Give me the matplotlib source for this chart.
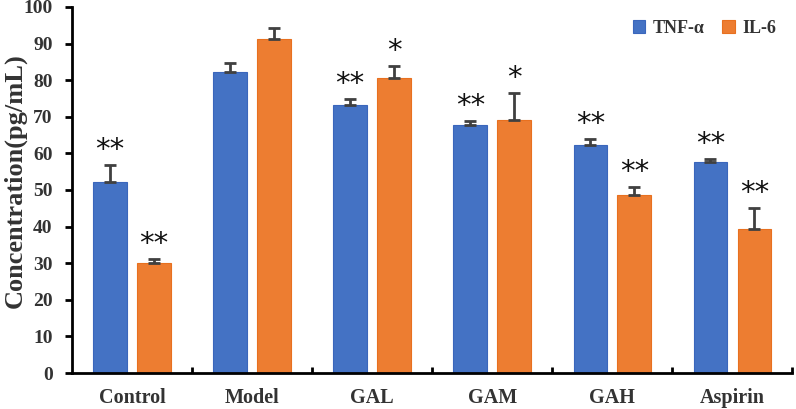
import numpy as np
import matplotlib.pyplot as plt

categories = ['Control', 'Model', 'GAL', 'GAM', 'GAH', 'Aspirin']
tnf = [52.2, 82.3, 73.2, 67.7, 62.3, 57.6]
tnf_err = [4.6, 2.5, 1.6, 1.1, 1.5, 0.9]
il6 = [30.0, 91.3, 80.6, 69.2, 48.7, 39.3]
il6_err = [1.1, 3.0, 3.3, 7.4, 2.2, 5.8]
tnf_sig = ['**', '', '**', '**', '**', '**']
il6_sig = ['**', '', '*', '*', '**', '**']

serif = 'Liberation Serif'

fig = plt.figure(figsize=(7.96, 4.09), dpi=100)
ax = fig.add_axes([0.0905, 0.088, 0.905, 0.895])

x = np.arange(len(categories))
w = 0.28
off = 0.183
ax.bar(x - off, tnf, w, color='#4472C4', edgecolor='#3A66BC', linewidth=0.8, label='TNF-α', zorder=2)
ax.bar(x + off, il6, w, color='#ED7D31', edgecolor='#E8701F', linewidth=0.8, label='IL-6', zorder=2)

zeros = np.zeros(len(categories))
for xs, vals, errs in [(x - off, tnf, tnf_err), (x + off, il6, il6_err)]:
    ax.errorbar(xs, vals, yerr=[zeros, errs], fmt='none', ecolor='#404040',
                elinewidth=2, capsize=4, capthick=2, zorder=3)

# significance stars
for xs, vals, errs, sig in [(x - off, tnf, tnf_err, tnf_sig), (x + off, il6, il6_err, il6_sig)]:
    for xi, v, e, s in zip(xs, vals, errs, sig):
        if s:
            ax.text(xi, v + e + 0.3, s, ha='center', va='bottom', fontsize=21,
                    family='DejaVu Sans', color='#111111')

ax.set_xlim(-0.5, len(categories) - 0.5)
ax.set_ylim(0, 100)
ax.set_yticks(np.arange(0, 101, 10))
ax.set_xticks(x)
ax.set_xticklabels(categories, family=serif, fontsize=14.5, weight='bold', color='#333333')
for lab in ax.get_yticklabels():
    lab.set_family(serif)
    lab.set_fontsize(14)
    lab.set_weight('bold')
    lab.set_color('#333333')

# category separators on x axis
ax.set_xticks(np.arange(0.5, len(categories) - 0.5 + 1, 1), minor=True)
ax.tick_params(axis='x', which='major', length=0, pad=11)
ax.tick_params(axis='x', which='minor', direction='in', length=4, width=2)
ax.tick_params(axis='y', direction='out', length=5, width=2, pad=9)

ax.spines['top'].set_visible(False)
ax.spines['right'].set_visible(False)
ax.spines['left'].set_linewidth(2)
ax.spines['bottom'].set_linewidth(2)

ax.set_ylabel('Concentration(pg/mL)', family=serif, fontsize=19, weight='bold',
              color='#333333')
ax.yaxis.set_label_coords(-0.063, 0.525)

ax.legend(loc='upper right', bbox_to_anchor=(1.0, 1.01), frameon=False, ncol=2,
          prop={'family': serif, 'size': 13, 'weight': 'bold'},
          handlelength=0.7, handleheight=0.7, handletextpad=0.4, columnspacing=1.0,
          labelcolor='#333333')

plt.savefig('out.png', dpi=100)
